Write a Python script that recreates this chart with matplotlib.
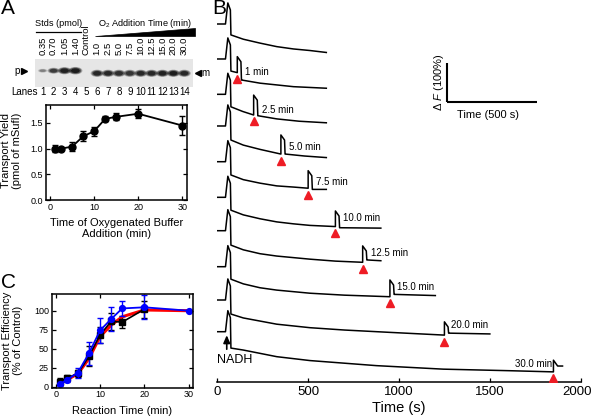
import matplotlib
matplotlib.use("Agg")
import matplotlib.pyplot as plt
import matplotlib.transforms as mtransforms
from matplotlib.patches import Ellipse, Rectangle, Polygon

plt.rcParams['font.family'] = ['Liberation Sans', 'DejaVu Sans']
plt.rcParams['mathtext.fontset'] = 'custom'
plt.rcParams['mathtext.rm'] = 'Liberation Sans'
plt.rcParams['mathtext.it'] = 'Liberation Sans:italic'

W, H = 592, 417

# ---------------- Panel A: gel ----------------
lane_numbers = list(range(1, 15))
lane_labels = ["0.35", "0.70", "1.05", "1.40", "Control", "1.0", "2.5", "5.0",
               "7.5", "10.0", "12.5", "15.0", "20.0", "30.0"]
band_intensity = [0.35, 0.7, 0.9, 0.95, 0.0, 0.85, 0.85, 0.8, 0.75, 0.85,
                  0.85, 0.9, 0.95, 0.85]
band_kind = ['p', 'p', 'p', 'p', '-', 'm', 'm', 'm', 'm', 'm', 'm', 'm', 'm', 'm']

# ---------------- Panel A: transport yield ----------------
yield_time = [1, 2.5, 5, 7.5, 10, 12.5, 15, 20, 30]
yield_mean = [1.0, 1.0, 1.04, 1.24, 1.34, 1.58, 1.62, 1.68, 1.45]
yield_err = [0.065, 0.03, 0.08, 0.10, 0.09, 0.05, 0.07, 0.085, 0.19]

# ---------------- Panel C: transport efficiency ----------------
eff_time = [1, 2.5, 5, 7.5, 10, 12.5, 15, 20, 30]
eff_black = [6.5, 11, 17.5, 40, 68, 86, 85, 102]
eff_black_err = [4.5, 4, 5, 13, 10, 11, 8, 11]
eff_red = [4.5, 9, 17, 37, 66, 81, 92, 101, 100]
eff_blue = [3.5, 9, 18.5, 44, 74, 89, 103, 104.5, 100]
eff_blue_err = [3, 3, 6.5, 15, 16, 16, 10, 16, 0]

# ---------------- Panel B: fluorescence traces (dF %, time s) ----------------
nadh_t = 50
nadh_shape_t = [0, 45, 58, 72]
nadh_shape_v = [0, 0, 54, 36]
o2_min = [None, 1, 2.5, 5, 7.5, 10, 12.5, 15, 20, 30]
o2_labels = [None, "1 min", "2.5 min", "5.0 min", "7.5 min", "10.0 min",
             "12.5 min", "15.0 min", "20.0 min", "30.0 min"]
pre_t = [
    [75, 143, 235, 327, 419, 510, 600],
    [75, 110],
    [75, 140, 200],
    [75, 143, 235, 350],
    [75, 143, 235, 327, 419, 500],
    [75, 143, 235, 327, 419, 510, 650],
    [75, 143, 235, 327, 510, 650, 800],
    [75, 143, 235, 327, 510, 700, 950],
    [75, 143, 327, 510, 700, 950, 1250],
    [75, 143, 327, 510, 876, 1243, 1610, 1850],
]
pre_v = [
    [-28, -39, -49, -58, -64, -68, -73],
    [-31, -35],
    [-32, -44, -53],
    [-36, -49, -60, -72],
    [-34, -46, -55, -62, -65, -68],
    [-33, -45, -55, -63, -68, -72, -75],
    [-37, -49, -59, -65, -73, -78, -81],
    [-32, -44, -54, -60, -68, -73, -77],
    [-36, -46, -62, -71, -77, -83, -90],
    [-42, -47, -64, -74, -87, -96, -100, -103],
]
spike_amp = [None, 41, 51, 49, 45, 40, 42, 43, 34, 30]
post_t = [
    [],
    [135, 235, 419, 600],
    [225, 327, 450, 600],
    [375, 480, 600],
    [525, 600],
    [675, 900],
    [825, 900],
    [975, 1200],
    [1275, 1500],
    [1875, 1900],
]
post_v = [
    [],
    [-54, -62, -71, -75],
    [-55, -63, -69, -73],
    [-72, -77, -81],
    [-71, -71],
    [-78, -79],
    [-75, -77],
    [-71, -74],
    [-85, -87],
    [-88, -88],
]

# ---------------- layout / style ----------------
trace_offset = [0, -89.7, -180.3, -261.5, -353.1, -444.4, -530, -622.3, -707.7, -789]
label_dx_px = [None, 7.7, 8, 8, 8, 7.3, 8, 7.3, 6.3, -1.7]
label_dy_px = [None, 0.3, 5, 7.3, 6.6, 8.4, 9, 10, 10, 7.7]
PX = 100.0 / 39.0     # dF% per pixel in panel B
lane_x0, lane_dx = 42.7, 10.89


def rect(x0, y0, x1, y1):
    return [x0 / W, 1 - y1 / H, (x1 - x0) / W, (y1 - y0) / H]


def lane_of(px):
    return (px - lane_x0) / lane_dx + 1


fig = plt.figure(figsize=(W / 100, H / 100), dpi=100)

# ======== Panel A header + gel ========
axG = fig.add_axes(rect(0, 0, 212, 100))
axG.set_xlim(lane_of(0), lane_of(212))
axG.set_ylim(100, 0)
axG.axis('off')
axG.add_patch(Rectangle((lane_of(35), 58.5), lane_of(193) - lane_of(35), 28,
                        facecolor='#e6e6e6', edgecolor='none'))
for ln, inten, kind in zip(lane_numbers, band_intensity, band_kind):
    if inten <= 0:
        continue
    if kind == 'p':
        y, w, h = 70.7, 0.55 + 0.55 * inten, 1.5 + 5 * inten
    else:
        y, w, h = 73.3, 1.0, 6.0
    for sc, a in [(1.2, 0.3), (1.0, 0.5), (0.75, 0.7)]:
        axG.add_patch(Ellipse((ln, y), w * sc, h * sc, facecolor='k',
                              edgecolor='none', alpha=a * inten))
for ln, lab in zip(lane_numbers, lane_labels):
    axG.text(ln, 55, lab, rotation=90, ha='center', va='bottom', fontsize=6.8)
    axG.text(ln, 92, str(ln), ha='center', va='center', fontsize=7)
axG.text(lane_of(11.7), 92, "Lanes", ha='left', va='center', fontsize=7)
axG.text(lane_of(58.5), 24, "Stds (pmol)", ha='center', va='center', fontsize=6.6)
axG.plot([lane_of(36), lane_of(80.7)], [31.7, 31.7], color='k', lw=0.9)
axG.text(lane_of(145), 23.3, "O$_2$ Addition Time (min)", ha='center', va='center', fontsize=6.6)
axG.add_patch(Polygon([(lane_of(95), 36), (lane_of(195), 36), (lane_of(195), 28.3)],
                      closed=True, facecolor='k', edgecolor='k', lw=0.5))
axG.text(lane_of(17), 71, "p", ha='center', va='center', fontsize=7)
axG.plot(lane_of(23.5), 71, marker='>', color='k', ms=4)
axG.plot(lane_of(197.5), 73, marker='<', color='k', ms=4)
axG.text(lane_of(201), 73, "m", ha='left', va='center', fontsize=7)

# ======== Panel A plot ========
axA = fig.add_axes(rect(45.7, 105, 186.7, 200))
axA.errorbar(yield_time, yield_mean, yerr=yield_err, fmt='-o', color='k', ms=5,
             lw=1.3, capsize=2.2, elinewidth=1.0, capthick=1.0)
axA.set_xlim(-1, 31)
axA.set_ylim(0, 1.85)
axA.set_xticks([0, 10, 20, 30])
axA.set_yticks([0, 0.5, 1.0, 1.5])
axA.set_yticklabels(['0.0', '0.5', '1.0', '1.5'])
axA.tick_params(direction='in', top=True, right=True, labelsize=6.5, length=3,
                width=0.9, pad=2)
for s in axA.spines.values():
    s.set_linewidth(1.1)
axA.set_xlabel("Time of Oxygenated Buffer\nAddition (min)", fontsize=8, linespacing=1.15)
axA.set_ylabel("Transport Yield\n(pmol of mSufI)", fontsize=8, linespacing=1.15)
axA.xaxis.set_label_coords(0.5, -0.19)
axA.yaxis.set_label_coords(-0.17, 0.52)

# ======== Panel C plot ========
axC = fig.add_axes(rect(51.7, 294, 192.7, 387.7))
axC.errorbar(eff_time[:len(eff_black)], eff_black, yerr=eff_black_err, fmt='-s',
             color='k', ms=3.8, lw=1.2, capsize=2.2, elinewidth=1.0, capthick=1.0)
axC.plot(eff_time, eff_red, color='red', lw=2.2)
axC.errorbar(eff_time, eff_blue, yerr=eff_blue_err, fmt='-o', color='blue', ms=4.2,
             lw=1.3, capsize=2.2, elinewidth=1.0, capthick=1.0)
axC.set_xlim(-0.9, 30.9)
axC.set_ylim(-1.3, 122)
axC.set_xticks([0, 10, 20, 30])
axC.set_yticks([0, 25, 50, 75, 100])
axC.tick_params(direction='in', top=True, right=True, labelsize=6.5, length=3,
                width=0.9, pad=2)
for s in axC.spines.values():
    s.set_linewidth(1.1)
axC.set_xlabel("Reaction Time (min)", fontsize=8)
axC.set_ylabel("Transport Efficiency\n(% of Control)", fontsize=8, linespacing=1.15)
axC.xaxis.set_label_coords(0.5, -0.19)
axC.yaxis.set_label_coords(-0.205, 0.5)

# ======== Panel B traces ========
axB = fig.add_axes(rect(217.3, 0, 580.7, 381.7))
axB.set_xlim(0, 2000)
axB.set_ylim(-(381.7 - 24) * PX, 24 * PX)
for sp in ['left', 'top', 'right']:
    axB.spines[sp].set_visible(False)
axB.spines['bottom'].set_linewidth(1.1)
axB.set_yticks([])
axB.set_xticks([0, 500, 1000, 1500, 2000])
axB.tick_params(axis='x', direction='in', length=3, width=0.9, labelsize=9.5, pad=3)
last_tick = axB.xaxis.get_major_ticks()[-1]
last_tick.label1.set_transform(last_tick.label1.get_transform() +
                               mtransforms.ScaledTranslation(-4 / 100, 0, fig.dpi_scale_trans))
axB.set_xlabel("Time (s)", fontsize=10.5)
axB.xaxis.set_label_coords(0.5, -0.05)

for i in range(len(pre_t)):
    t = list(nadh_shape_t) + pre_t[i]
    v = list(nadh_shape_v) + pre_v[i]
    off = trace_offset[i]
    if o2_min[i] is not None:
        to = nadh_t + 60 * o2_min[i]
        lvl = pre_v[i][-1]
        top = lvl + spike_amp[i]
        t += [to, to + 20, to + 23] + post_t[i]
        v += [top, top - 13, post_v[i][0]] + post_v[i]
        axB.plot(to, lvl + off - 6.5 * PX, marker='^', color='#ee1c25',
                 mec='#ee1c25', ms=6, zorder=3)
        dx = label_dx_px[i] * 0.72
        dy = label_dy_px[i] * 0.72
        axB.annotate(o2_labels[i], xy=(to, lvl + off), xytext=(dx, dy),
                     textcoords='offset points', ha='left' if dx > 0 else 'right',
                     va='center', fontsize=7)
    axB.plot(t, [x + off for x in v], color='k', lw=1.1)

# NADH arrow and label
y_last = trace_offset[-1]
axB.annotate('', xy=(nadh_t + 2, y_last - 3.5 * PX), xytext=(nadh_t + 2, y_last - 17.5 * PX),
             arrowprops=dict(arrowstyle='-|>,head_length=0.5,head_width=0.22', color='k',
                             lw=1.2, mutation_scale=9, shrinkA=0, shrinkB=0), zorder=4)
axB.text(0, y_last - 28.5 * PX, "NADH", ha='left', va='center', fontsize=9)

# scale bar
sb_x0, sb_len_t, sb_y0, sb_len_f = 1262, 500, -(101.7 - 24) * PX, 100
axB.plot([sb_x0, sb_x0 + sb_len_t], [sb_y0, sb_y0], color='k', lw=1.5, solid_capstyle='butt')
axB.plot([sb_x0, sb_x0], [sb_y0, sb_y0 + sb_len_f], color='k', lw=1.5, solid_capstyle='butt')
axB.text(sb_x0 - 8.0 / 0.1817, sb_y0 + sb_len_f / 2, r"$\Delta$ $F$ (100%)", rotation=90,
         ha='center', va='center', fontsize=8)
axB.text(sb_x0 + sb_len_t / 2 - 20, sb_y0 - 13.5 * PX, "Time (500 s)", ha='center',
         va='center', fontsize=8)

# panel letters
fig.text(0.5 / W, 1 - 8.5 / H, "A", fontsize=15, ha='left', va='center')
fig.text(212.5 / W, 1 - 8.5 / H, "B", fontsize=15, ha='left', va='center')
fig.text(0.5 / W, 1 - 283 / H, "C", fontsize=15, ha='left', va='center')

fig.savefig("out.png", dpi=100)
